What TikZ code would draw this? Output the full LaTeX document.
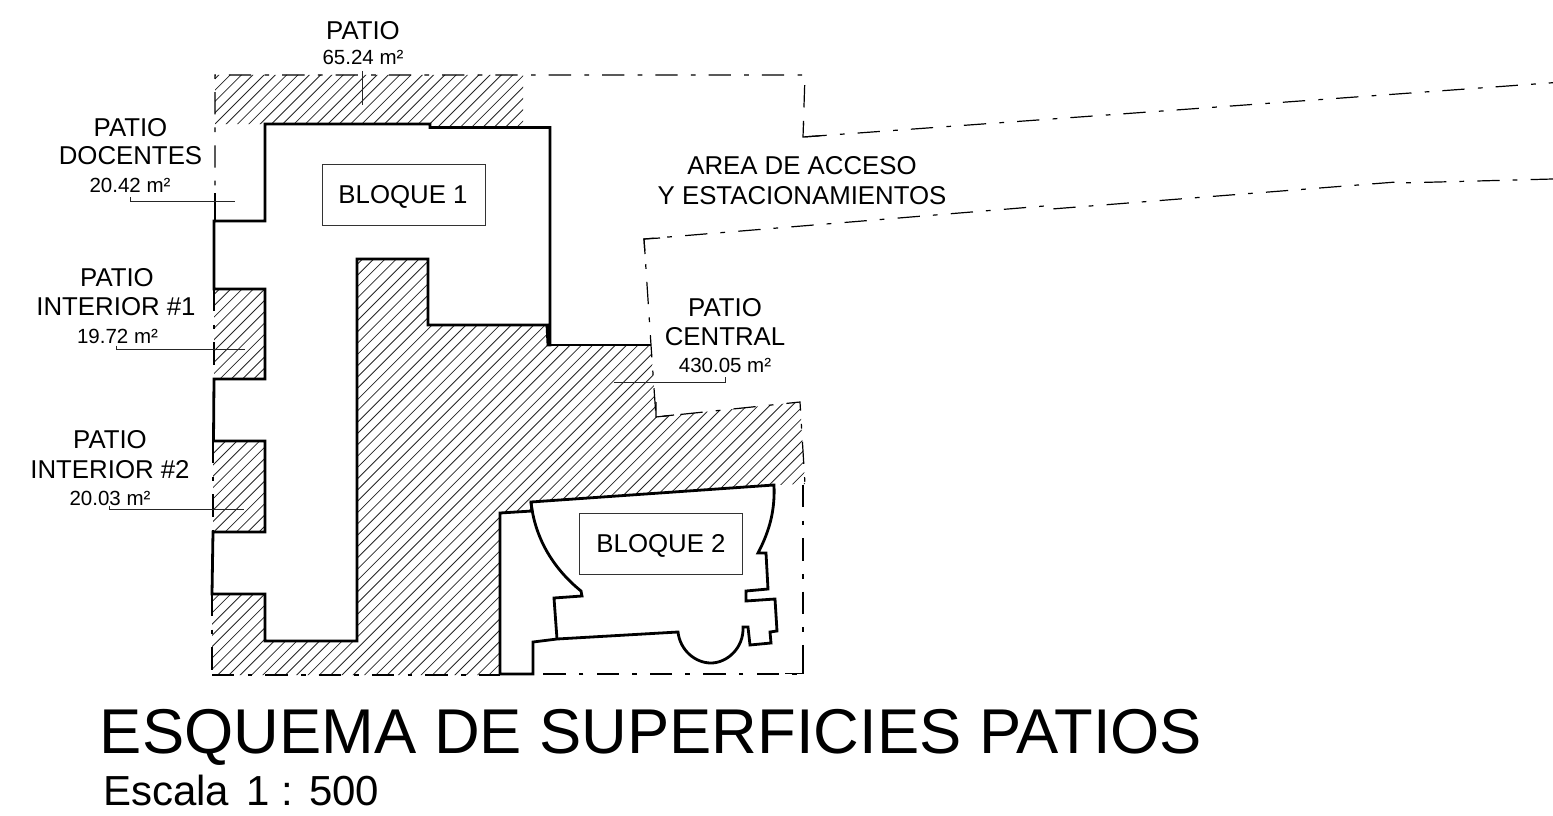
\documentclass[tikz,border=0pt]{standalone}
\usepackage{fontspec}
\setmainfont{Liberation Sans}
\tikzset{
  wall/.style={line width=2.8pt,line join=miter,black},
  thin box/.style={draw=black!80,line width=0.9pt},
  boundary/.style={line width=1.2pt,black,dash pattern=on 22.3pt off 13.3pt on 4.7pt off 13pt},
  boundarytick/.style={line width=1.2pt,black},
  leader/.style={line width=1pt,black!85},
  hatchline/.style={line width=0.8pt,black!85},
  big/.style={font=\fontsize{25.8}{26}\selectfont,inner sep=0pt,anchor=base},
  small/.style={font=\fontsize{20.5}{20.5}\selectfont,inner sep=0pt,anchor=base},
}
\newcommand{\hatchfill}[1]{%
  \begin{scope}
    \clip #1;
    \foreach \c in {0,11.3,...,1500}{
      \draw[hatchline] (\c,0) -- ({\c-816},816);
    }
  \end{scope}}
\begin{document}
\begin{tikzpicture}[x=1pt,y=-1pt]
\useasboundingbox (0,0) rectangle (1553,816);
% hatched areas
\hatchfill{(215,75) -- (523,75) -- (523,128) -- (430,128) -- (430,124) -- (215,124) -- cycle}
\hatchfill{(214,289) -- (265,289) -- (265,379) -- (214,379) -- cycle}
\hatchfill{(213,441) -- (265,441) -- (265,532) -- (213,532) -- cycle}
\hatchfill{(357,259) -- (428,259) -- (428,325) -- (547,325) -- (548,345) -- (651,345) -- (656,417) -- (800,402) -- (805,484) -- (774,485) -- (531,502) -- (532,511) -- (500,513) -- (500,675) -- (212,675) -- (212,594) -- (265,594) -- (265,641) -- (357,641) -- cycle}
% site boundary
\draw[boundary] (215,221) -- (215,75) -- (805,75) -- (803,137) -- (1553,82.7);
\draw[boundary] (1553,179) -- (1400,183) -- (1400,181.7) -- (1048,209.3) -- (1048,205.7) -- (644,239) -- (651,345) -- (656,417) -- (800,402) -- (805,484);
\draw[boundary] (803,485) -- (803,674) -- (533,674);
\draw[boundary] (212,675) -- (500,675);
\draw[boundary] (214,289) -- (214,379);
\draw[boundary] (213,441) -- (213,532);
\draw[boundary] (212,594) -- (212,675);
% solid stretches at the corners of the boundary
\draw[boundarytick] (803.5,123) -- (803,137) -- (820,135.8);
\draw[boundarytick] (215,193) -- (215,221);
\draw[boundarytick] (660,238) -- (644,239) -- (645,254);
\draw[boundarytick] (785,673.5) -- (803,673.5) -- (803,652);
\draw[boundarytick] (656,402) -- (656,417) -- (674,415);
% bloque 1
\draw[wall] (214,289) -- (214,221) -- (265,221) -- (265,124) -- (430,124) -- (430,127.5) -- (550,127.5) -- (550,345) -- (548,345) -- (547,325) -- (428,325) -- (428,259) -- (357,259) -- (357,641) -- (265,641) -- (265,594) -- (212,594) -- (213,532) -- (265,532) -- (265,441) -- (213.5,441) -- (214,379) -- (265,379) -- (265,289) -- cycle;
\draw[line width=1.1pt] (550,345) -- (651,345);
% bloque 2
\draw[wall] (500,513) -- (532,511) -- (531,502) -- (774,485)
  .. controls (775,510) and (770,530) .. (758,553)
  -- (766,553) -- (768,589) -- (746,591) -- (746,601) -- (775,599) -- (777,631) -- (770,632) -- (771,643) -- (750,645) -- (748,627) -- (743,627)
  .. controls (744,648) and (727,663) .. (711,663)
  .. controls (695,663) and (680,650) .. (678,632)
  -- (557,639) -- (533,642) -- (533,674) -- (500,674) -- cycle;
\draw[wall] (557,639) -- (554,598) -- (582,596) -- (581,591)
  .. controls (555,570) and (535,540) .. (531,502);
% boxes
\node[thin box,minimum width=163pt,minimum height=61pt,inner sep=0pt,fill=white] (b1) at (403.5,194.5) {};
\node[big] (b1t) at (403,203) {BLOQUE 1};
\node[thin box,minimum width=163pt,minimum height=61pt,inner sep=0pt,fill=white] (b2) at (660.5,543.5) {};
\node[big] (b2t) at (661,552.7) {BLOQUE 2};
% labels
\node[big] (p0a) at (363,40) {PATIO};
\node[small] (p0b) at (363,65) {65.24 m²};
\coordinate (p0e) at (362.5,105);
\draw[leader] (362.5,71) -- (p0e);
\node[big] (p1a) at (130.5,136) {PATIO};
\node[big] (p1b) at (130.5,164) {DOCENTES};
\node[small] (p1c) at (130,192) {20.42 m²};
\coordinate (p1s) at (130,197);
\coordinate (p1m) at (130,201);
\coordinate (p1e) at (235,201);
\draw[leader] (p1s) -- (p1m) -- (p1e);
\node[big] (p2a) at (117,286) {PATIO};
\node[big] (p2b) at (116,315) {INTERIOR \#1};
\node[small] (p2c) at (117.5,343) {19.72 m²};
\coordinate (p2s) at (116,345.5);
\coordinate (p2m) at (116,349);
\coordinate (p2e) at (245,349);
\draw[leader] (p2s) -- (p2m) -- (p2e);
\node[big] (p3a) at (110,448) {PATIO};
\node[big] (p3b) at (110,478) {INTERIOR \#2};
\node[small] (p3c) at (110,505) {20.03 m²};
\coordinate (p3s) at (109,506);
\coordinate (p3m) at (109,509);
\coordinate (p3e) at (244,509);
\draw[leader] (p3s) -- (p3m) -- (p3e);
\node[big] (p4a) at (725,316) {PATIO};
\node[big] (p4b) at (725,345.5) {CENTRAL};
\node[small] (p4c) at (725,372.7) {430.05 m²};
\coordinate (p4s) at (725,377);
\coordinate (p4m) at (725,382);
\coordinate (p4e) at (614,382);
\draw[leader] (p4s) -- (p4m) -- (p4e);
\node[big] (a1) at (802,174) {AREA DE ACCESO};
\node[big] (a2) at (802,204) {Y ESTACIONAMIENTOS};
% title
\node[font=\fontsize{63.3}{63.3}\selectfont,inner sep=0pt,anchor=base] (title) at (651,753) {ESQUEMA DE SUPERFICIES PATIOS};
\node[font=\fontsize{42}{42}\selectfont,inner sep=0pt,anchor=base west] (scale) at (103,805) {Escala\hspace{6pt} 1 : 500};
\end{tikzpicture}
\end{document}
